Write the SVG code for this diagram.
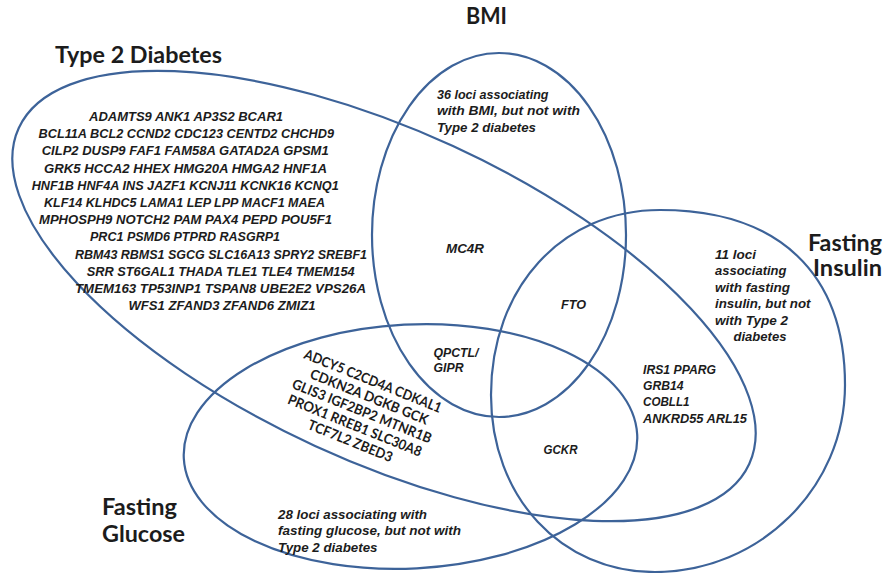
<svg xmlns="http://www.w3.org/2000/svg" width="886" height="573" viewBox="0 0 886 573">
  <style>
    .set { fill: none; stroke: #3d6399; stroke-width: 2.2; }
    .t { font-family: Lato, 'Open Sans', 'Liberation Sans', sans-serif; font-weight: bold; fill: #1c1c1c; }
    .i { font-family: 'Liberation Sans', Arial, sans-serif; font-style: italic; font-size: 12.5px; }
    .u { font-size: 14px; }
    .h { font-size: 22px; }
  </style>
  <rect width="886" height="573" fill="#ffffff"/>

  <!-- Set outlines with their titles -->
  <g id="set-type2-diabetes">
    <ellipse class="set" cx="384" cy="296" rx="402" ry="165" transform="rotate(24.7 384 296)"/>
    <text class="t h" x="55" y="63" textLength="167" lengthAdjust="spacingAndGlyphs">Type 2 Diabetes</text>
  </g>
  <g id="set-bmi">
    <ellipse class="set" cx="499" cy="235" rx="127" ry="182"/>
    <text class="t h" x="466" y="24" textLength="41" lengthAdjust="spacingAndGlyphs">BMI</text>
  </g>
  <g id="set-fasting-insulin">
    <path class="set" d="M660,210 C778.4,210 845,273 845,385 C845,487.9 759.5,572 655,572 C560.7,572 491,496.8 491,395 C491,287.7 562,210 660,210 Z"/>
    <text class="t h" x="808" y="251" textLength="74" lengthAdjust="spacingAndGlyphs">Fasting</text>
    <text class="t h" x="813" y="276" textLength="69" lengthAdjust="spacingAndGlyphs">Insulin</text>
  </g>
  <g id="set-fasting-glucose">
    <ellipse class="set" cx="410.5" cy="446.5" rx="227" ry="122" transform="rotate(-3 410.5 446.5)"/>
    <text class="t h" x="102" y="515" textLength="75" lengthAdjust="spacingAndGlyphs">Fasting</text>
    <text class="t h" x="102" y="542" textLength="83" lengthAdjust="spacingAndGlyphs">Glucose</text>
  </g>

  <!-- Type 2 diabetes only -->
  <g id="region-t2d-only" class="t i">
    <text x="89" y="121" textLength="194" lengthAdjust="spacingAndGlyphs">ADAMTS9 ANK1 AP3S2 BCAR1</text>
    <text x="38.5" y="138.2" textLength="295.5" lengthAdjust="spacingAndGlyphs">BCL11A BCL2 CCND2 CDC123 CENTD2 CHCHD9</text>
    <text x="41.7" y="155.4" textLength="287" lengthAdjust="spacingAndGlyphs">CILP2 DUSP9 FAF1 FAM58A GATAD2A GPSM1</text>
    <text x="44" y="172.6" textLength="283" lengthAdjust="spacingAndGlyphs">GRK5 HCCA2 HHEX HMG20A HMGA2 HNF1A</text>
    <text x="31.7" y="189.8" textLength="307" lengthAdjust="spacingAndGlyphs">HNF1B HNF4A INS JAZF1 KCNJ11 KCNK16 KCNQ1</text>
    <text x="44" y="207" textLength="281" lengthAdjust="spacingAndGlyphs">KLF14 KLHDC5 LAMA1 LEP LPP MACF1 MAEA</text>
    <text x="39" y="224.2" textLength="293" lengthAdjust="spacingAndGlyphs">MPHOSPH9 NOTCH2 PAM PAX4 PEPD POU5F1</text>
    <text x="90" y="241.4" textLength="190" lengthAdjust="spacingAndGlyphs">PRC1 PSMD6 PTPRD RASGRP1</text>
    <text x="75" y="258.6" textLength="292" lengthAdjust="spacingAndGlyphs">RBM43 RBMS1 SGCG SLC16A13 SPRY2 SREBF1</text>
    <text x="86.7" y="275.8" textLength="268" lengthAdjust="spacingAndGlyphs">SRR ST6GAL1 THADA TLE1 TLE4 TMEM154</text>
    <text x="75" y="293" textLength="291" lengthAdjust="spacingAndGlyphs">TMEM163 TP53INP1 TSPAN8 UBE2E2 VPS26A</text>
    <text x="128.5" y="310.2" textLength="187" lengthAdjust="spacingAndGlyphs">WFS1 ZFAND3 ZFAND6 ZMIZ1</text>
  </g>

  <!-- BMI only -->
  <g id="region-bmi-only" class="t i">
    <text x="437" y="98.5" textLength="111.5" lengthAdjust="spacingAndGlyphs">36 loci associating</text>
    <text x="437" y="115" textLength="143" lengthAdjust="spacingAndGlyphs">with BMI, but not with</text>
    <text x="437" y="131.5" textLength="99" lengthAdjust="spacingAndGlyphs">Type 2 diabetes</text>
  </g>

  <!-- Overlap loci -->
  <g id="region-t2d-bmi" class="t i">
    <text x="446" y="253" textLength="38" lengthAdjust="spacingAndGlyphs">MC4R</text>
  </g>
  <g id="region-t2d-bmi-insulin" class="t i">
    <text x="561" y="309" textLength="25" lengthAdjust="spacingAndGlyphs">FTO</text>
  </g>
  <g id="region-t2d-bmi-glucose" class="t i">
    <text x="433.5" y="356.5" textLength="45" lengthAdjust="spacingAndGlyphs">QPCTL/</text>
    <text x="433.5" y="372" textLength="30" lengthAdjust="spacingAndGlyphs">GIPR</text>
  </g>
  <g id="region-t2d-insulin-glucose" class="t i">
    <text x="543.5" y="454" textLength="34" lengthAdjust="spacingAndGlyphs">GCKR</text>
  </g>
  <g id="region-t2d-insulin" class="t i">
    <text x="643" y="373.5" textLength="73" lengthAdjust="spacingAndGlyphs">IRS1 PPARG</text>
    <text x="643" y="389.5" textLength="40.5" lengthAdjust="spacingAndGlyphs">GRB14</text>
    <text x="643" y="405.5" textLength="46.5" lengthAdjust="spacingAndGlyphs">COBLL1</text>
    <text x="643" y="422.5" textLength="104" lengthAdjust="spacingAndGlyphs">ANKRD55 ARL15</text>
  </g>
  <g id="region-t2d-glucose" class="t u" transform="translate(303 358) rotate(22)">
    <text x="0" y="0" textLength="147" lengthAdjust="spacingAndGlyphs">ADCY5 C2CD4A CDKAL1</text>
    <text x="13" y="16" textLength="126" lengthAdjust="spacingAndGlyphs">CDKN2A DGKB GCK</text>
    <text x="0" y="32" textLength="149" lengthAdjust="spacingAndGlyphs">GLIS3 IGF2BP2 MTNR1B</text>
    <text x="2" y="48" textLength="143" lengthAdjust="spacingAndGlyphs">PROX1 RREB1 SLC30A8</text>
    <text x="30" y="64" textLength="90" lengthAdjust="spacingAndGlyphs">TCF7L2 ZBED3</text>
  </g>

  <!-- Fasting insulin only -->
  <g id="region-insulin-only" class="t i">
    <text x="715" y="258.5" textLength="41" lengthAdjust="spacingAndGlyphs">11 loci</text>
    <text x="715" y="275" textLength="71.5" lengthAdjust="spacingAndGlyphs">associating</text>
    <text x="715" y="291.5" textLength="75" lengthAdjust="spacingAndGlyphs">with fasting</text>
    <text x="715" y="308" textLength="95.5" lengthAdjust="spacingAndGlyphs">insulin, but not</text>
    <text x="715" y="324.5" textLength="73" lengthAdjust="spacingAndGlyphs">with Type 2</text>
    <text x="733.5" y="341" textLength="53" lengthAdjust="spacingAndGlyphs">diabetes</text>
  </g>

  <!-- Fasting glucose only -->
  <g id="region-glucose-only" class="t i">
    <text x="278" y="518.5" textLength="149" lengthAdjust="spacingAndGlyphs">28 loci associating with</text>
    <text x="278" y="535" textLength="183" lengthAdjust="spacingAndGlyphs">fasting glucose, but not with</text>
    <text x="278" y="551.5" textLength="99.5" lengthAdjust="spacingAndGlyphs">Type 2 diabetes</text>
  </g>
</svg>
